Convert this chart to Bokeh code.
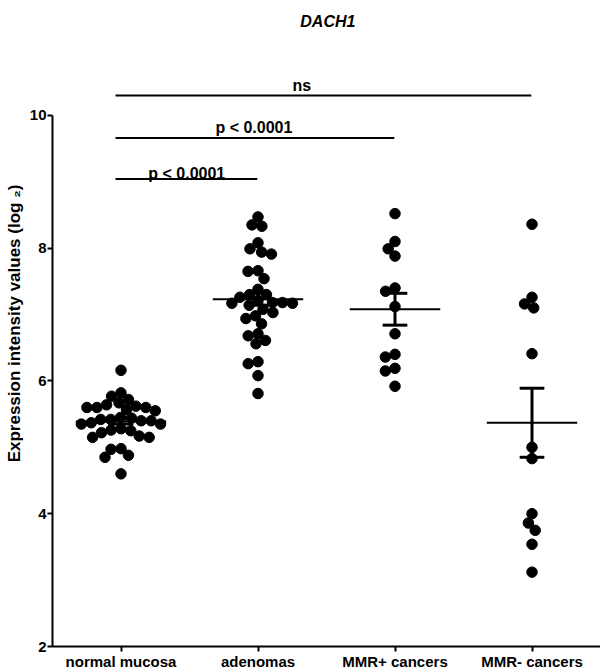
import math
from bokeh.plotting import figure
from bokeh.models import Range1d, FixedTicker
from bokeh.core.properties import value
from bokeh.embed import file_html
from bokeh.resources import INLINE

# ---- data ----
categories = ["normal mucosa", "adenomas", "MMR+ cancers", "MMR- cancers"]

normal_mucosa = [6.16, 5.82, 5.77, 5.72, 5.67, 5.60, 5.60, 5.57, 5.62, 5.55, 5.60, 5.64,
                 5.42, 5.40, 5.45, 5.37, 5.35, 5.42, 5.35, 5.40, 5.44,
                 5.28, 5.25, 5.17, 5.15, 5.15, 5.22, 5.26,
                 4.98, 4.88, 4.85, 4.97, 4.60]
adenomas = [8.47, 8.35, 8.33, 8.08, 7.99, 7.91, 7.94, 7.65, 7.66, 7.54, 7.38,
            7.21, 7.18, 7.17, 7.30, 7.30, 7.14, 7.17, 7.18, 7.26, 7.08,
            6.98, 6.86, 6.94, 7.03, 6.71, 6.61, 6.56, 6.68, 6.26, 6.29, 6.08, 5.81]
mmr_pos = [8.52, 8.10, 7.99, 7.88, 7.40, 7.35, 7.12, 6.71, 6.36, 6.40, 6.19, 6.15, 5.92]
mmr_neg = [8.36, 7.26, 7.10, 7.16, 6.41, 5.00, 4.83, 4.00, 3.86, 3.75, 3.54, 3.12]

means = [5.39, 7.23, 7.08, 5.37]
sems = [0.04, 0.09, 0.24, 0.52]

comparisons = [(0, 1, "p < 0.0001"), (0, 2, "p < 0.0001"), (0, 3, "ns")]
bracket_y = [9.04, 9.66, 10.30]
label_y = [9.13, 9.81, 10.45]
label_x = [0.48, 0.97, 1.32]

y_ticks = [2, 4, 6, 8, 10]

groups = [normal_mucosa, adenomas, mmr_pos, mmr_neg]

# ---- layout ----
W, H = 600, 672
LEFT, BOTTOM = 52, 24
frame_w = W - LEFT
frame_h = H - BOTTOM
x_start, x_end = -0.5, 3.5
y_start = 2.0
px_per_y = 66.6
y_end = y_start + frame_h / px_per_y
px_per_x = frame_w / (x_end - x_start)


def swarm(vals, d=10.0):
    """beeswarm offsets (in category units) so dots sit side by side on screen"""
    placed = []
    offs = [0.0] * len(vals)
    order = sorted(range(len(vals)), key=lambda i: -vals[i])
    for i in order:
        ypx = vals[i] * px_per_y
        cands = [0.0]
        for (px, py) in placed:
            dy = abs(py - ypx)
            if dy < d:
                dx = math.sqrt(d * d - dy * dy)
                cands += [px + dx, px - dx]
        cands.sort(key=lambda c: (abs(c), c))
        for c in cands:
            if all((px - c) ** 2 + (py - ypx) ** 2 >= d * d - 1e-6 for (px, py) in placed):
                placed.append((c, ypx))
                offs[i] = c / px_per_x
                break
    return offs


xs, ys = [], []
for gi, vals in enumerate(groups):
    offs = swarm(vals)
    xs += [gi + o for o in offs]
    ys += vals

FONT = "Liberation Sans"

p = figure(width=W, height=H, output_backend="svg", toolbar_location=None,
           x_range=Range1d(x_start, x_end), y_range=Range1d(y_start, y_end),
           min_border_left=LEFT, min_border_right=0, min_border_top=0,
           min_border_bottom=BOTTOM)
p.outline_line_color = None
p.grid.visible = False
p.background_fill_color = "white"
p.border_fill_color = "white"

# axes
p.yaxis.ticker = FixedTicker(ticks=y_ticks)
p.yaxis.bounds = (2, 10)
p.yaxis.axis_label = "Expression intensity values (log \u2082)"
p.yaxis.axis_label_text_font = FONT
p.yaxis.axis_label_text_font_style = "bold"
p.yaxis.axis_label_text_font_size = "17px"
p.yaxis.axis_label_text_color = "black"
p.yaxis.axis_label_standoff = 3
p.xaxis.ticker = FixedTicker(ticks=list(range(len(categories))))
p.xaxis.major_label_overrides = {i: c for i, c in enumerate(categories)}
p.xaxis.axis_label_standoff = 0
for ax in (p.xaxis, p.yaxis):
    ax.axis_line_width = 2
    ax.axis_line_color = "black"
    ax.major_tick_line_width = 2
    ax.major_tick_line_color = "black"
    ax.major_tick_out = 5
    ax.major_tick_in = 0
    ax.minor_tick_line_color = None
    ax.major_label_text_font = FONT
    ax.major_label_text_font_style = "bold"
    ax.major_label_text_font_size = "15px"
    ax.major_label_text_color = "black"
    ax.major_label_standoff = 1

# points
p.scatter(xs, ys, size=10.5, color="black")

# mean and SEM
idx = list(range(len(categories)))
p.segment(x0=[i - 0.33 for i in idx], x1=[i + 0.33 for i in idx], y0=means, y1=means,
          line_color="black", line_width=2)
lo = [m - s for m, s in zip(means, sems)]
hi = [m + s for m, s in zip(means, sems)]
p.segment(x0=idx, x1=idx, y0=lo, y1=hi, line_color="black", line_width=3)
p.segment(x0=[i - 0.09 for i in idx] * 2, x1=[i + 0.09 for i in idx] * 2,
          y0=lo + hi, y1=lo + hi, line_color="black", line_width=3)

# significance brackets
bx0 = [a - 0.04 for a, b, t in comparisons]
bx1 = [b - 0.005 for a, b, t in comparisons]
p.segment(x0=bx0, x1=bx1, y0=bracket_y, y1=bracket_y, line_color="black", line_width=2)
p.text(x=label_x, y=label_y, text=[t for a, b, t in comparisons],
       text_font=value(FONT), text_font_style="bold", text_font_size="16px",
       text_align="center", text_baseline="alphabetic", text_color="black")

# title
p.text(x=[1.51], y=[2 + (648 - 21) / px_per_y], text=["DACH1"],
       text_font=value(FONT), text_font_style="bold italic", text_font_size="16px",
       text_align="center", text_baseline="alphabetic", text_color="black")

open("out.html", "w").write(file_html(p, INLINE))
